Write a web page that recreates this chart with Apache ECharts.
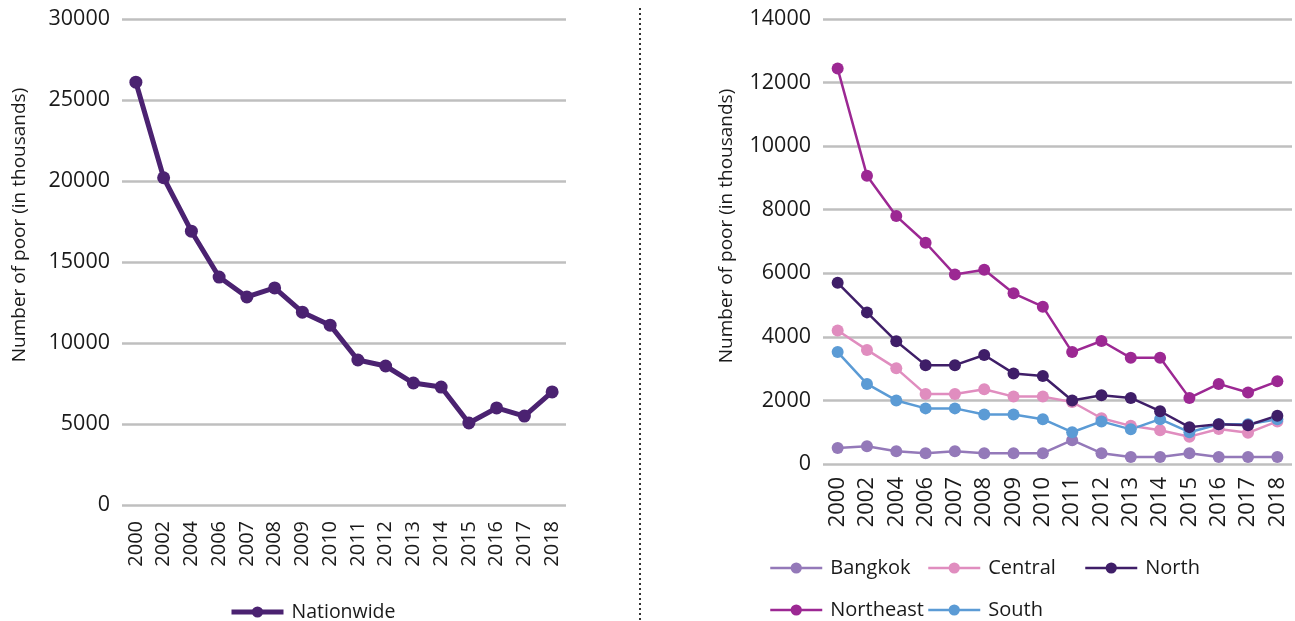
<!DOCTYPE html>
<html><head><meta charset="utf-8">
<script src="https://cdn.jsdelivr.net/npm/echarts@6/dist/echarts.min.js"></script>
<style>html,body{margin:0;padding:0;background:#fff}#c{width:1295px;height:621px}</style>
</head><body><div id="c"></div>
<script>
const years = ['2000','2002','2004','2006','2007','2008','2009','2010','2011','2012','2013','2014','2015','2016','2017','2018'];
const nationwide = [26100,20200,16900,14070,12840,13400,11900,11100,8950,8580,7530,7280,5060,5990,5490,6980];
const bangkok = [500,560,400,340,400,340,340,340,750,340,220,220,340,220,220,220];
const central = [4200,3590,3010,2200,2200,2350,2120,2120,1950,1440,1200,1060,860,1100,980,1340];
const north = [5700,4770,3860,3110,3110,3430,2850,2770,2000,2160,2080,1660,1160,1250,1220,1520];
const northeast = [12440,9070,7800,6960,5960,6110,5370,4950,3520,3870,3340,3340,2080,2520,2250,2600];
const south = [3520,2520,2000,1750,1750,1560,1560,1410,1000,1340,1090,1410,1000,1250,1250,1410];
const leftTicks = {min:0,max:30000,interval:5000};
const rightTicks = {min:0,max:14000,interval:2000};
const yName = 'Number of poor (in thousands)';

const FONT = 'Open Sans';
const textColor = '#1a1a1a';
const chart = echarts.init(document.getElementById('c'));

function xAxis(gi, size, margin){
  return {type:'category', gridIndex:gi, data:years, boundaryGap:true,
    axisLine:{show:false}, axisTick:{show:false},
    axisLabel:{rotate:90, fontFamily:FONT, fontSize:size, color:textColor, margin:margin, interval:0}};
}
function yAxis(gi, t){
  return {type:'value', gridIndex:gi, min:t.min, max:t.max, interval:t.interval,
    axisLine:{show:false}, axisTick:{show:false},
    axisLabel:{fontFamily:FONT, fontSize:21.5, color:textColor, margin:12, formatter:(v)=>String(v)},
    splitLine:{lineStyle:{color:'#bfbfbf', width:2.5}}};
}
function lineSeries(name, data, color, xi, lw, sz){
  return {name:name, type:'line', data:data, xAxisIndex:xi, yAxisIndex:xi,
    symbol:'circle', symbolSize:sz, showAllSymbol:true,
    lineStyle:{color:color, width:lw}, itemStyle:{color:color}, color:color,
    emphasis:{disabled:true}, animation:false, z: 2};
}
function legend(name, left, top, lw, fs){
  return {data:[name], left:left, top:top, itemWidth:52, itemHeight:14, itemGap:0, padding:0,
    lineStyle:{width:lw},
    textStyle:{fontFamily:FONT, fontSize:fs, color:textColor, padding:[0,0,0,3]}, selectedMode:false};
}

chart.setOption({
  animation:false,
  grid:[
    {left:122, right:1295-566, top:19, bottom:621-505},
    {left:823, right:3, top:19, bottom:621-464}
  ],
  xAxis:[xAxis(0,20,16), xAxis(1,22,13)],
  yAxis:[yAxis(0,leftTicks), yAxis(1,rightTicks)],
  legend:[
    legend('Nationwide',229,602,5,19.5),
    legend('Bangkok',769,558,2.5,20),
    legend('Central',927,558,2.5,20),
    legend('North',1084,558,2.5,20),
    legend('Northeast',769,600,2.5,20),
    legend('South',927,600,2.5,20)
  ],
  series:[
    lineSeries('Nationwide', nationwide, '#4b2271', 0, 5, 13),
    lineSeries('Bangkok', bangkok, '#9479b9', 1, 2.5, 12),
    lineSeries('Central', central, '#e08dbf', 1, 2.5, 12),
    lineSeries('South', south, '#5b9bd5', 1, 2.5, 12),
    lineSeries('North', north, '#3f1e68', 1, 2.5, 12),
    lineSeries('Northeast', northeast, '#9c2893', 1, 2.5, 12)
  ],
  graphic:[
    {type:'text', x:20, y:225, rotation:Math.PI/2,
      style:{text:yName, fontFamily:FONT, fontSize:19, fill:textColor, align:'center', verticalAlign:'middle'}},
    {type:'text', x:727, y:226, rotation:Math.PI/2,
      style:{text:yName, fontFamily:FONT, fontSize:19, fill:textColor, align:'center', verticalAlign:'middle'}},
    {type:'line', shape:{x1:640, y1:8, x2:640, y2:621},
      style:{stroke:'#333', lineWidth:2, lineDash:[2,3]}}
  ]
});
</script></body></html>
